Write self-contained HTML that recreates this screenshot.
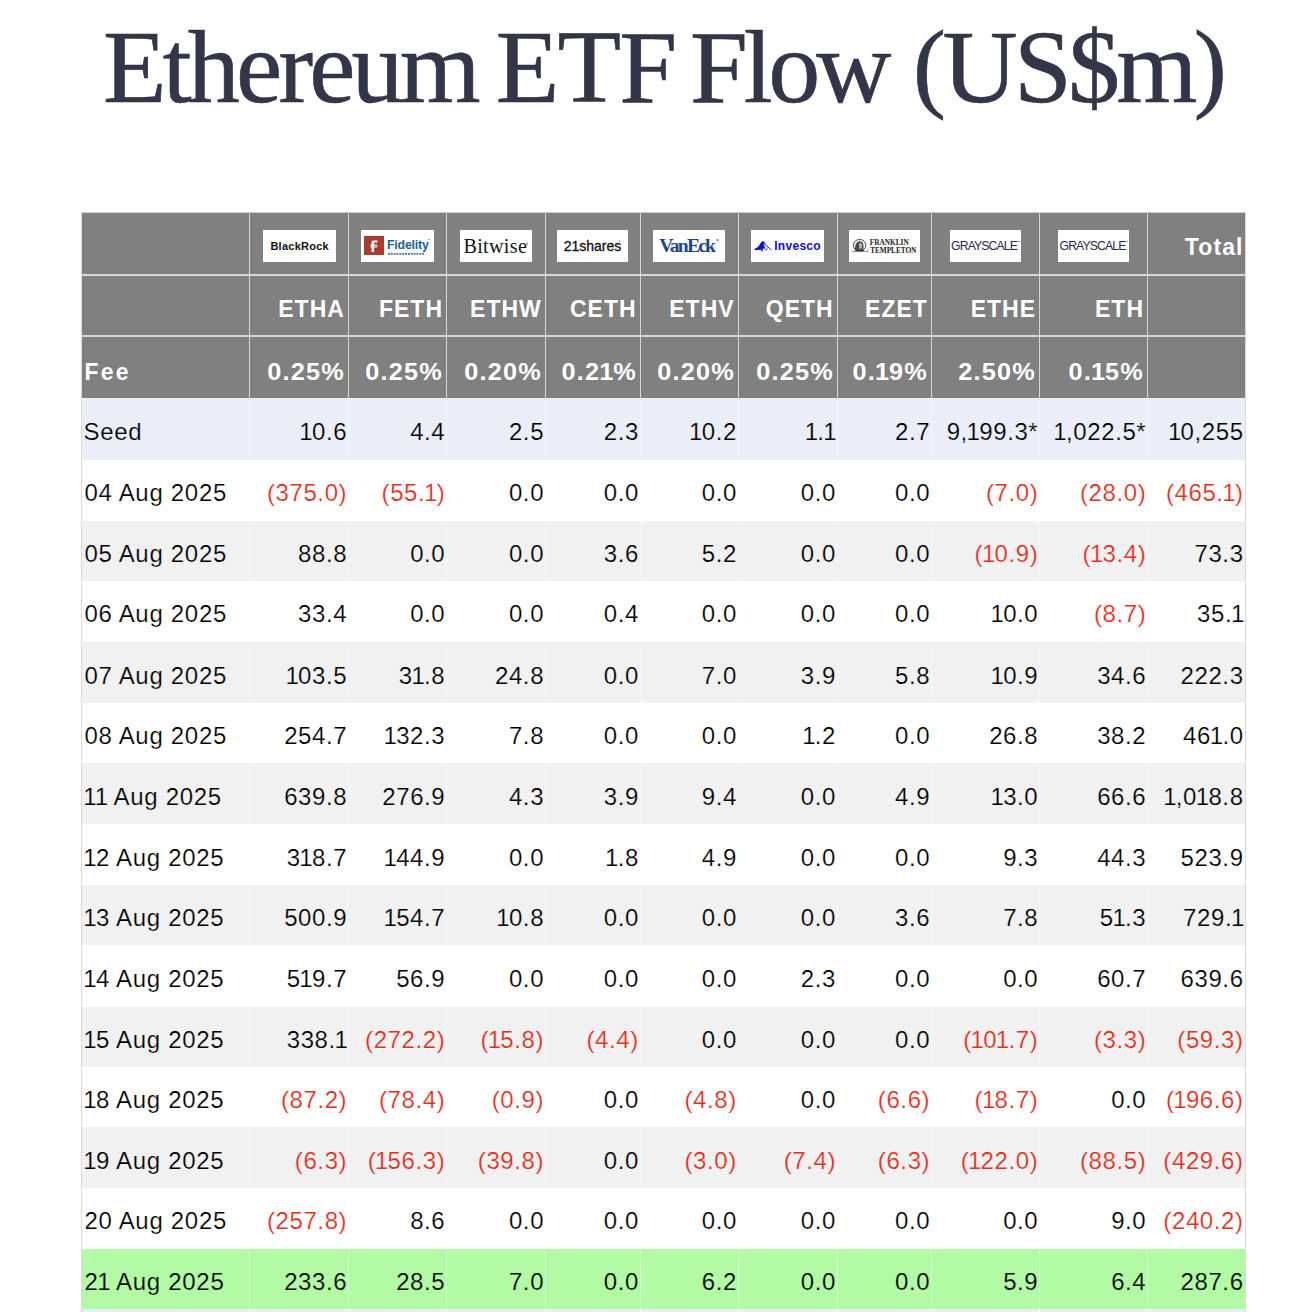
<!DOCTYPE html>
<html><head><meta charset="utf-8"><title>Ethereum ETF Flow</title>
<style>
html,body{margin:0;padding:0;background:#fff;}
body{width:1304px;height:1312px;position:relative;overflow:hidden;font-family:"Liberation Sans",sans-serif;}
.a{position:absolute;}
.n{white-space:nowrap;}
.r{text-align:right;}
.h{font-weight:bold;color:#fff;font-size:23.5px;}
.neg{color:#e2332b;}
.logo{position:absolute;background:#fff;overflow:hidden;}
.o{margin:0 -1.3px;}
.o2{margin:0 -1.1px;}
.p{font-size:99px;position:relative;top:-3px;}
.title{position:absolute;left:0;top:0;font-family:"Liberation Serif",serif;font-size:104px;color:#333548;white-space:nowrap;line-height:104px;-webkit-text-stroke:0.6px #333548;}
</style></head><body>

<div class="title" style="left:103px;top:14.5px;letter-spacing:-3.8px;">Ethereum</div>
<div class="title" style="left:495.8px;top:14.5px;letter-spacing:-1.75px;">ETF</div>
<div class="title" style="left:690px;top:14.5px;letter-spacing:-4.2px;">Flow</div>
<div class="title" style="left:913px;top:14.5px;letter-spacing:-3.6px;"><span class="p">(</span>US$m<span class="p">)</span></div>
<div class="a" style="left:81.5px;top:212.5px;width:1163.5px;height:185.1px;background:#808080;"></div>
<div class="a" style="left:81.5px;top:397.6px;width:1163.5px;height:62.4px;background:#eaeef8;"></div>
<div class="a" style="left:81.5px;top:460.0px;width:1163.5px;height:60.5px;background:#ffffff;"></div>
<div class="a" style="left:81.5px;top:520.5px;width:1163.5px;height:60.3px;background:#f1f1f1;"></div>
<div class="a" style="left:81.5px;top:580.8px;width:1163.5px;height:61.4px;background:#ffffff;"></div>
<div class="a" style="left:81.5px;top:642.2px;width:1163.5px;height:60.7px;background:#f1f1f1;"></div>
<div class="a" style="left:81.5px;top:702.9px;width:1163.5px;height:60.3px;background:#ffffff;"></div>
<div class="a" style="left:81.5px;top:763.2px;width:1163.5px;height:61.3px;background:#f1f1f1;"></div>
<div class="a" style="left:81.5px;top:824.5px;width:1163.5px;height:60.5px;background:#ffffff;"></div>
<div class="a" style="left:81.5px;top:885.0px;width:1163.5px;height:60.2px;background:#f1f1f1;"></div>
<div class="a" style="left:81.5px;top:945.2px;width:1163.5px;height:61.4px;background:#ffffff;"></div>
<div class="a" style="left:81.5px;top:1006.6px;width:1163.5px;height:60.3px;background:#f1f1f1;"></div>
<div class="a" style="left:81.5px;top:1066.9px;width:1163.5px;height:60.3px;background:#ffffff;"></div>
<div class="a" style="left:81.5px;top:1127.2px;width:1163.5px;height:60.7px;background:#f1f1f1;"></div>
<div class="a" style="left:81.5px;top:1187.9px;width:1163.5px;height:60.7px;background:#ffffff;"></div>
<div class="a" style="left:81.5px;top:1248.6px;width:1163.5px;height:60.6px;background:#b2faa4;"></div>
<div class="a" style="left:81.5px;top:1309.2px;width:1163.5px;height:2.8px;background:#eaeef8;"></div>
<div class="a" style="left:81.5px;top:274.0px;width:1163.5px;height:2px;background:#d6d6d6;"></div>
<div class="a" style="left:81.5px;top:335.2px;width:1163.5px;height:2px;background:#d6d6d6;"></div>
<div class="a" style="left:248.75px;top:212.5px;width:1.5px;height:185.1px;background:#d6d6d6;"></div>
<div class="a" style="left:347.85px;top:212.5px;width:1.5px;height:185.1px;background:#d6d6d6;"></div>
<div class="a" style="left:445.95px;top:212.5px;width:1.5px;height:185.1px;background:#d6d6d6;"></div>
<div class="a" style="left:544.75px;top:212.5px;width:1.5px;height:185.1px;background:#d6d6d6;"></div>
<div class="a" style="left:639.55px;top:212.5px;width:1.5px;height:185.1px;background:#d6d6d6;"></div>
<div class="a" style="left:737.55px;top:212.5px;width:1.5px;height:185.1px;background:#d6d6d6;"></div>
<div class="a" style="left:836.65px;top:212.5px;width:1.5px;height:185.1px;background:#d6d6d6;"></div>
<div class="a" style="left:930.85px;top:212.5px;width:1.5px;height:185.1px;background:#d6d6d6;"></div>
<div class="a" style="left:1038.95px;top:212.5px;width:1.5px;height:185.1px;background:#d6d6d6;"></div>
<div class="a" style="left:1146.95px;top:212.5px;width:1.5px;height:185.1px;background:#d6d6d6;"></div>
<div class="a" style="left:249.0px;top:397.6px;width:1px;height:914.4px;background:rgba(255,255,255,0.4);"></div>
<div class="a" style="left:348.1px;top:397.6px;width:1px;height:914.4px;background:rgba(255,255,255,0.4);"></div>
<div class="a" style="left:446.2px;top:397.6px;width:1px;height:914.4px;background:rgba(255,255,255,0.4);"></div>
<div class="a" style="left:545.0px;top:397.6px;width:1px;height:914.4px;background:rgba(255,255,255,0.4);"></div>
<div class="a" style="left:639.8px;top:397.6px;width:1px;height:914.4px;background:rgba(255,255,255,0.4);"></div>
<div class="a" style="left:737.8px;top:397.6px;width:1px;height:914.4px;background:rgba(255,255,255,0.4);"></div>
<div class="a" style="left:836.9px;top:397.6px;width:1px;height:914.4px;background:rgba(255,255,255,0.4);"></div>
<div class="a" style="left:931.1px;top:397.6px;width:1px;height:914.4px;background:rgba(255,255,255,0.4);"></div>
<div class="a" style="left:1039.2px;top:397.6px;width:1px;height:914.4px;background:rgba(255,255,255,0.4);"></div>
<div class="a" style="left:1147.2px;top:397.6px;width:1px;height:914.4px;background:rgba(255,255,255,0.4);"></div>
<div class="a" style="left:81.0px;top:212.0px;width:1px;height:1099.5px;background:#dcd8d2;"></div>
<div class="a" style="left:1245.0px;top:212.0px;width:1px;height:1099.5px;background:#dcd8d2;"></div>
<div class="a" style="left:81.5px;top:212.0px;width:1163.5px;height:1px;background:#d0d0d0;"></div>
<div class="a n" style="left:44.90px;top:297.63px;width:300px;text-align:right;font-size:23px;line-height:23px;font-weight:bold;color:#fff;letter-spacing:1.0px;">ETHA</div>
<div class="a n" style="left:45.00px;top:360.93px;width:300px;text-align:right;font-size:23px;line-height:23px;font-weight:bold;color:#fff;letter-spacing:1.1px;transform:scaleX(1.1);transform-origin:100% 50%;">0.25%</div>
<div class="a n" style="left:143.00px;top:297.63px;width:300px;text-align:right;font-size:23px;line-height:23px;font-weight:bold;color:#fff;letter-spacing:1.0px;">FETH</div>
<div class="a n" style="left:143.10px;top:360.93px;width:300px;text-align:right;font-size:23px;line-height:23px;font-weight:bold;color:#fff;letter-spacing:1.1px;transform:scaleX(1.1);transform-origin:100% 50%;">0.25%</div>
<div class="a n" style="left:241.80px;top:297.63px;width:300px;text-align:right;font-size:23px;line-height:23px;font-weight:bold;color:#fff;letter-spacing:1.0px;">ETHW</div>
<div class="a n" style="left:241.90px;top:360.93px;width:300px;text-align:right;font-size:23px;line-height:23px;font-weight:bold;color:#fff;letter-spacing:1.1px;transform:scaleX(1.1);transform-origin:100% 50%;">0.20%</div>
<div class="a n" style="left:336.60px;top:297.63px;width:300px;text-align:right;font-size:23px;line-height:23px;font-weight:bold;color:#fff;letter-spacing:1.0px;">CETH</div>
<div class="a n" style="left:336.70px;top:360.93px;width:300px;text-align:right;font-size:23px;line-height:23px;font-weight:bold;color:#fff;letter-spacing:1.1px;transform:scaleX(1.1);transform-origin:100% 50%;">0.2<span class="o2">1</span>%</div>
<div class="a n" style="left:434.60px;top:297.63px;width:300px;text-align:right;font-size:23px;line-height:23px;font-weight:bold;color:#fff;letter-spacing:1.0px;">ETHV</div>
<div class="a n" style="left:434.70px;top:360.93px;width:300px;text-align:right;font-size:23px;line-height:23px;font-weight:bold;color:#fff;letter-spacing:1.1px;transform:scaleX(1.1);transform-origin:100% 50%;">0.20%</div>
<div class="a n" style="left:533.70px;top:297.63px;width:300px;text-align:right;font-size:23px;line-height:23px;font-weight:bold;color:#fff;letter-spacing:1.0px;">QETH</div>
<div class="a n" style="left:533.80px;top:360.93px;width:300px;text-align:right;font-size:23px;line-height:23px;font-weight:bold;color:#fff;letter-spacing:1.1px;transform:scaleX(1.1);transform-origin:100% 50%;">0.25%</div>
<div class="a n" style="left:627.90px;top:297.63px;width:300px;text-align:right;font-size:23px;line-height:23px;font-weight:bold;color:#fff;letter-spacing:1.0px;">EZET</div>
<div class="a n" style="left:628.00px;top:360.93px;width:300px;text-align:right;font-size:23px;line-height:23px;font-weight:bold;color:#fff;letter-spacing:1.1px;transform:scaleX(1.1);transform-origin:100% 50%;">0.<span class="o2">1</span>9%</div>
<div class="a n" style="left:736.00px;top:297.63px;width:300px;text-align:right;font-size:23px;line-height:23px;font-weight:bold;color:#fff;letter-spacing:1.0px;">ETHE</div>
<div class="a n" style="left:736.10px;top:360.93px;width:300px;text-align:right;font-size:23px;line-height:23px;font-weight:bold;color:#fff;letter-spacing:1.1px;transform:scaleX(1.1);transform-origin:100% 50%;">2.50%</div>
<div class="a n" style="left:844.00px;top:297.63px;width:300px;text-align:right;font-size:23px;line-height:23px;font-weight:bold;color:#fff;letter-spacing:1.0px;">ETH</div>
<div class="a n" style="left:844.10px;top:360.93px;width:300px;text-align:right;font-size:23px;line-height:23px;font-weight:bold;color:#fff;letter-spacing:1.1px;transform:scaleX(1.1);transform-origin:100% 50%;">0.<span class="o2">1</span>5%</div>
<div class="a n" style="left:943.60px;top:235.73px;width:300px;text-align:right;font-size:23px;line-height:23px;font-weight:bold;color:#fff;letter-spacing:1.1px;">Total</div>
<div class="a n" style="left:84.50px;top:360.93px;font-size:23px;line-height:23px;font-weight:bold;color:#fff;letter-spacing:2.2px;">Fee</div>
<div class="a n" style="left:83.50px;top:420.38px;font-size:24px;line-height:24px;color:#000;letter-spacing:0.7px;-webkit-text-stroke:0.2px #eaeef8;">Seed</div>
<div class="a n" style="left:47.20px;top:420.38px;width:300px;text-align:right;font-size:24px;line-height:24px;color:#000;letter-spacing:0.6px;-webkit-text-stroke:0.2px #eaeef8;"><span class="o">1</span>0.6</div>
<div class="a n" style="left:145.30px;top:420.38px;width:300px;text-align:right;font-size:24px;line-height:24px;color:#000;letter-spacing:0.6px;-webkit-text-stroke:0.2px #eaeef8;">4.4</div>
<div class="a n" style="left:244.10px;top:420.38px;width:300px;text-align:right;font-size:24px;line-height:24px;color:#000;letter-spacing:0.6px;-webkit-text-stroke:0.2px #eaeef8;">2.5</div>
<div class="a n" style="left:338.90px;top:420.38px;width:300px;text-align:right;font-size:24px;line-height:24px;color:#000;letter-spacing:0.6px;-webkit-text-stroke:0.2px #eaeef8;">2.3</div>
<div class="a n" style="left:436.90px;top:420.38px;width:300px;text-align:right;font-size:24px;line-height:24px;color:#000;letter-spacing:0.6px;-webkit-text-stroke:0.2px #eaeef8;"><span class="o">1</span>0.2</div>
<div class="a n" style="left:536.00px;top:420.38px;width:300px;text-align:right;font-size:24px;line-height:24px;color:#000;letter-spacing:0.6px;-webkit-text-stroke:0.2px #eaeef8;"><span class="o">1</span>.<span class="o">1</span></div>
<div class="a n" style="left:630.20px;top:420.38px;width:300px;text-align:right;font-size:24px;line-height:24px;color:#000;letter-spacing:0.6px;-webkit-text-stroke:0.2px #eaeef8;">2.7</div>
<div class="a n" style="left:738.30px;top:420.38px;width:300px;text-align:right;font-size:24px;line-height:24px;color:#000;letter-spacing:0.6px;-webkit-text-stroke:0.2px #eaeef8;">9,<span class="o">1</span>99.3*</div>
<div class="a n" style="left:846.30px;top:420.38px;width:300px;text-align:right;font-size:24px;line-height:24px;color:#000;letter-spacing:0.6px;-webkit-text-stroke:0.2px #eaeef8;"><span class="o">1</span>,022.5*</div>
<div class="a n" style="left:943.60px;top:420.38px;width:300px;text-align:right;font-size:24px;line-height:24px;color:#000;letter-spacing:0.6px;-webkit-text-stroke:0.2px #eaeef8;"><span class="o">1</span>0,255</div>
<div class="a n" style="left:84.50px;top:481.38px;font-size:24px;line-height:24px;color:#000;letter-spacing:0.7px;-webkit-text-stroke:0.2px #ffffff;">04 Aug 2025</div>
<div class="a n" style="left:47.20px;top:481.38px;width:300px;text-align:right;font-size:24px;line-height:24px;color:#e52d20;letter-spacing:0.6px;-webkit-text-stroke:0.2px #ffffff;">(375.0)</div>
<div class="a n" style="left:145.30px;top:481.38px;width:300px;text-align:right;font-size:24px;line-height:24px;color:#e52d20;letter-spacing:0.6px;-webkit-text-stroke:0.2px #ffffff;">(55.<span class="o">1</span>)</div>
<div class="a n" style="left:244.10px;top:481.38px;width:300px;text-align:right;font-size:24px;line-height:24px;color:#000;letter-spacing:0.6px;-webkit-text-stroke:0.2px #ffffff;">0.0</div>
<div class="a n" style="left:338.90px;top:481.38px;width:300px;text-align:right;font-size:24px;line-height:24px;color:#000;letter-spacing:0.6px;-webkit-text-stroke:0.2px #ffffff;">0.0</div>
<div class="a n" style="left:436.90px;top:481.38px;width:300px;text-align:right;font-size:24px;line-height:24px;color:#000;letter-spacing:0.6px;-webkit-text-stroke:0.2px #ffffff;">0.0</div>
<div class="a n" style="left:536.00px;top:481.38px;width:300px;text-align:right;font-size:24px;line-height:24px;color:#000;letter-spacing:0.6px;-webkit-text-stroke:0.2px #ffffff;">0.0</div>
<div class="a n" style="left:630.20px;top:481.38px;width:300px;text-align:right;font-size:24px;line-height:24px;color:#000;letter-spacing:0.6px;-webkit-text-stroke:0.2px #ffffff;">0.0</div>
<div class="a n" style="left:738.30px;top:481.38px;width:300px;text-align:right;font-size:24px;line-height:24px;color:#e52d20;letter-spacing:0.6px;-webkit-text-stroke:0.2px #ffffff;">(7.0)</div>
<div class="a n" style="left:846.30px;top:481.38px;width:300px;text-align:right;font-size:24px;line-height:24px;color:#e52d20;letter-spacing:0.6px;-webkit-text-stroke:0.2px #ffffff;">(28.0)</div>
<div class="a n" style="left:943.60px;top:481.38px;width:300px;text-align:right;font-size:24px;line-height:24px;color:#e52d20;letter-spacing:0.6px;-webkit-text-stroke:0.2px #ffffff;">(465.<span class="o">1</span>)</div>
<div class="a n" style="left:84.50px;top:541.88px;font-size:24px;line-height:24px;color:#000;letter-spacing:0.7px;-webkit-text-stroke:0.2px #f1f1f1;">05 Aug 2025</div>
<div class="a n" style="left:47.20px;top:541.88px;width:300px;text-align:right;font-size:24px;line-height:24px;color:#000;letter-spacing:0.6px;-webkit-text-stroke:0.2px #f1f1f1;">88.8</div>
<div class="a n" style="left:145.30px;top:541.88px;width:300px;text-align:right;font-size:24px;line-height:24px;color:#000;letter-spacing:0.6px;-webkit-text-stroke:0.2px #f1f1f1;">0.0</div>
<div class="a n" style="left:244.10px;top:541.88px;width:300px;text-align:right;font-size:24px;line-height:24px;color:#000;letter-spacing:0.6px;-webkit-text-stroke:0.2px #f1f1f1;">0.0</div>
<div class="a n" style="left:338.90px;top:541.88px;width:300px;text-align:right;font-size:24px;line-height:24px;color:#000;letter-spacing:0.6px;-webkit-text-stroke:0.2px #f1f1f1;">3.6</div>
<div class="a n" style="left:436.90px;top:541.88px;width:300px;text-align:right;font-size:24px;line-height:24px;color:#000;letter-spacing:0.6px;-webkit-text-stroke:0.2px #f1f1f1;">5.2</div>
<div class="a n" style="left:536.00px;top:541.88px;width:300px;text-align:right;font-size:24px;line-height:24px;color:#000;letter-spacing:0.6px;-webkit-text-stroke:0.2px #f1f1f1;">0.0</div>
<div class="a n" style="left:630.20px;top:541.88px;width:300px;text-align:right;font-size:24px;line-height:24px;color:#000;letter-spacing:0.6px;-webkit-text-stroke:0.2px #f1f1f1;">0.0</div>
<div class="a n" style="left:738.30px;top:541.88px;width:300px;text-align:right;font-size:24px;line-height:24px;color:#e52d20;letter-spacing:0.6px;-webkit-text-stroke:0.2px #f1f1f1;">(<span class="o">1</span>0.9)</div>
<div class="a n" style="left:846.30px;top:541.88px;width:300px;text-align:right;font-size:24px;line-height:24px;color:#e52d20;letter-spacing:0.6px;-webkit-text-stroke:0.2px #f1f1f1;">(<span class="o">1</span>3.4)</div>
<div class="a n" style="left:943.60px;top:541.88px;width:300px;text-align:right;font-size:24px;line-height:24px;color:#000;letter-spacing:0.6px;-webkit-text-stroke:0.2px #f1f1f1;">73.3</div>
<div class="a n" style="left:84.50px;top:602.18px;font-size:24px;line-height:24px;color:#000;letter-spacing:0.7px;-webkit-text-stroke:0.2px #ffffff;">06 Aug 2025</div>
<div class="a n" style="left:47.20px;top:602.18px;width:300px;text-align:right;font-size:24px;line-height:24px;color:#000;letter-spacing:0.6px;-webkit-text-stroke:0.2px #ffffff;">33.4</div>
<div class="a n" style="left:145.30px;top:602.18px;width:300px;text-align:right;font-size:24px;line-height:24px;color:#000;letter-spacing:0.6px;-webkit-text-stroke:0.2px #ffffff;">0.0</div>
<div class="a n" style="left:244.10px;top:602.18px;width:300px;text-align:right;font-size:24px;line-height:24px;color:#000;letter-spacing:0.6px;-webkit-text-stroke:0.2px #ffffff;">0.0</div>
<div class="a n" style="left:338.90px;top:602.18px;width:300px;text-align:right;font-size:24px;line-height:24px;color:#000;letter-spacing:0.6px;-webkit-text-stroke:0.2px #ffffff;">0.4</div>
<div class="a n" style="left:436.90px;top:602.18px;width:300px;text-align:right;font-size:24px;line-height:24px;color:#000;letter-spacing:0.6px;-webkit-text-stroke:0.2px #ffffff;">0.0</div>
<div class="a n" style="left:536.00px;top:602.18px;width:300px;text-align:right;font-size:24px;line-height:24px;color:#000;letter-spacing:0.6px;-webkit-text-stroke:0.2px #ffffff;">0.0</div>
<div class="a n" style="left:630.20px;top:602.18px;width:300px;text-align:right;font-size:24px;line-height:24px;color:#000;letter-spacing:0.6px;-webkit-text-stroke:0.2px #ffffff;">0.0</div>
<div class="a n" style="left:738.30px;top:602.18px;width:300px;text-align:right;font-size:24px;line-height:24px;color:#000;letter-spacing:0.6px;-webkit-text-stroke:0.2px #ffffff;"><span class="o">1</span>0.0</div>
<div class="a n" style="left:846.30px;top:602.18px;width:300px;text-align:right;font-size:24px;line-height:24px;color:#e52d20;letter-spacing:0.6px;-webkit-text-stroke:0.2px #ffffff;">(8.7)</div>
<div class="a n" style="left:943.60px;top:602.18px;width:300px;text-align:right;font-size:24px;line-height:24px;color:#000;letter-spacing:0.6px;-webkit-text-stroke:0.2px #ffffff;">35.<span class="o">1</span></div>
<div class="a n" style="left:84.50px;top:663.58px;font-size:24px;line-height:24px;color:#000;letter-spacing:0.7px;-webkit-text-stroke:0.2px #f1f1f1;">07 Aug 2025</div>
<div class="a n" style="left:47.20px;top:663.58px;width:300px;text-align:right;font-size:24px;line-height:24px;color:#000;letter-spacing:0.6px;-webkit-text-stroke:0.2px #f1f1f1;"><span class="o">1</span>03.5</div>
<div class="a n" style="left:145.30px;top:663.58px;width:300px;text-align:right;font-size:24px;line-height:24px;color:#000;letter-spacing:0.6px;-webkit-text-stroke:0.2px #f1f1f1;">3<span class="o">1</span>.8</div>
<div class="a n" style="left:244.10px;top:663.58px;width:300px;text-align:right;font-size:24px;line-height:24px;color:#000;letter-spacing:0.6px;-webkit-text-stroke:0.2px #f1f1f1;">24.8</div>
<div class="a n" style="left:338.90px;top:663.58px;width:300px;text-align:right;font-size:24px;line-height:24px;color:#000;letter-spacing:0.6px;-webkit-text-stroke:0.2px #f1f1f1;">0.0</div>
<div class="a n" style="left:436.90px;top:663.58px;width:300px;text-align:right;font-size:24px;line-height:24px;color:#000;letter-spacing:0.6px;-webkit-text-stroke:0.2px #f1f1f1;">7.0</div>
<div class="a n" style="left:536.00px;top:663.58px;width:300px;text-align:right;font-size:24px;line-height:24px;color:#000;letter-spacing:0.6px;-webkit-text-stroke:0.2px #f1f1f1;">3.9</div>
<div class="a n" style="left:630.20px;top:663.58px;width:300px;text-align:right;font-size:24px;line-height:24px;color:#000;letter-spacing:0.6px;-webkit-text-stroke:0.2px #f1f1f1;">5.8</div>
<div class="a n" style="left:738.30px;top:663.58px;width:300px;text-align:right;font-size:24px;line-height:24px;color:#000;letter-spacing:0.6px;-webkit-text-stroke:0.2px #f1f1f1;"><span class="o">1</span>0.9</div>
<div class="a n" style="left:846.30px;top:663.58px;width:300px;text-align:right;font-size:24px;line-height:24px;color:#000;letter-spacing:0.6px;-webkit-text-stroke:0.2px #f1f1f1;">34.6</div>
<div class="a n" style="left:943.60px;top:663.58px;width:300px;text-align:right;font-size:24px;line-height:24px;color:#000;letter-spacing:0.6px;-webkit-text-stroke:0.2px #f1f1f1;">222.3</div>
<div class="a n" style="left:84.50px;top:724.28px;font-size:24px;line-height:24px;color:#000;letter-spacing:0.7px;-webkit-text-stroke:0.2px #ffffff;">08 Aug 2025</div>
<div class="a n" style="left:47.20px;top:724.28px;width:300px;text-align:right;font-size:24px;line-height:24px;color:#000;letter-spacing:0.6px;-webkit-text-stroke:0.2px #ffffff;">254.7</div>
<div class="a n" style="left:145.30px;top:724.28px;width:300px;text-align:right;font-size:24px;line-height:24px;color:#000;letter-spacing:0.6px;-webkit-text-stroke:0.2px #ffffff;"><span class="o">1</span>32.3</div>
<div class="a n" style="left:244.10px;top:724.28px;width:300px;text-align:right;font-size:24px;line-height:24px;color:#000;letter-spacing:0.6px;-webkit-text-stroke:0.2px #ffffff;">7.8</div>
<div class="a n" style="left:338.90px;top:724.28px;width:300px;text-align:right;font-size:24px;line-height:24px;color:#000;letter-spacing:0.6px;-webkit-text-stroke:0.2px #ffffff;">0.0</div>
<div class="a n" style="left:436.90px;top:724.28px;width:300px;text-align:right;font-size:24px;line-height:24px;color:#000;letter-spacing:0.6px;-webkit-text-stroke:0.2px #ffffff;">0.0</div>
<div class="a n" style="left:536.00px;top:724.28px;width:300px;text-align:right;font-size:24px;line-height:24px;color:#000;letter-spacing:0.6px;-webkit-text-stroke:0.2px #ffffff;"><span class="o">1</span>.2</div>
<div class="a n" style="left:630.20px;top:724.28px;width:300px;text-align:right;font-size:24px;line-height:24px;color:#000;letter-spacing:0.6px;-webkit-text-stroke:0.2px #ffffff;">0.0</div>
<div class="a n" style="left:738.30px;top:724.28px;width:300px;text-align:right;font-size:24px;line-height:24px;color:#000;letter-spacing:0.6px;-webkit-text-stroke:0.2px #ffffff;">26.8</div>
<div class="a n" style="left:846.30px;top:724.28px;width:300px;text-align:right;font-size:24px;line-height:24px;color:#000;letter-spacing:0.6px;-webkit-text-stroke:0.2px #ffffff;">38.2</div>
<div class="a n" style="left:943.60px;top:724.28px;width:300px;text-align:right;font-size:24px;line-height:24px;color:#000;letter-spacing:0.6px;-webkit-text-stroke:0.2px #ffffff;">46<span class="o">1</span>.0</div>
<div class="a n" style="left:84.50px;top:784.58px;font-size:24px;line-height:24px;color:#000;letter-spacing:0.7px;-webkit-text-stroke:0.2px #f1f1f1;"><span class="o">1</span><span class="o">1</span> Aug 2025</div>
<div class="a n" style="left:47.20px;top:784.58px;width:300px;text-align:right;font-size:24px;line-height:24px;color:#000;letter-spacing:0.6px;-webkit-text-stroke:0.2px #f1f1f1;">639.8</div>
<div class="a n" style="left:145.30px;top:784.58px;width:300px;text-align:right;font-size:24px;line-height:24px;color:#000;letter-spacing:0.6px;-webkit-text-stroke:0.2px #f1f1f1;">276.9</div>
<div class="a n" style="left:244.10px;top:784.58px;width:300px;text-align:right;font-size:24px;line-height:24px;color:#000;letter-spacing:0.6px;-webkit-text-stroke:0.2px #f1f1f1;">4.3</div>
<div class="a n" style="left:338.90px;top:784.58px;width:300px;text-align:right;font-size:24px;line-height:24px;color:#000;letter-spacing:0.6px;-webkit-text-stroke:0.2px #f1f1f1;">3.9</div>
<div class="a n" style="left:436.90px;top:784.58px;width:300px;text-align:right;font-size:24px;line-height:24px;color:#000;letter-spacing:0.6px;-webkit-text-stroke:0.2px #f1f1f1;">9.4</div>
<div class="a n" style="left:536.00px;top:784.58px;width:300px;text-align:right;font-size:24px;line-height:24px;color:#000;letter-spacing:0.6px;-webkit-text-stroke:0.2px #f1f1f1;">0.0</div>
<div class="a n" style="left:630.20px;top:784.58px;width:300px;text-align:right;font-size:24px;line-height:24px;color:#000;letter-spacing:0.6px;-webkit-text-stroke:0.2px #f1f1f1;">4.9</div>
<div class="a n" style="left:738.30px;top:784.58px;width:300px;text-align:right;font-size:24px;line-height:24px;color:#000;letter-spacing:0.6px;-webkit-text-stroke:0.2px #f1f1f1;"><span class="o">1</span>3.0</div>
<div class="a n" style="left:846.30px;top:784.58px;width:300px;text-align:right;font-size:24px;line-height:24px;color:#000;letter-spacing:0.6px;-webkit-text-stroke:0.2px #f1f1f1;">66.6</div>
<div class="a n" style="left:943.60px;top:784.58px;width:300px;text-align:right;font-size:24px;line-height:24px;color:#000;letter-spacing:0.6px;-webkit-text-stroke:0.2px #f1f1f1;"><span class="o">1</span>,0<span class="o">1</span>8.8</div>
<div class="a n" style="left:84.50px;top:845.88px;font-size:24px;line-height:24px;color:#000;letter-spacing:0.7px;-webkit-text-stroke:0.2px #ffffff;"><span class="o">1</span>2 Aug 2025</div>
<div class="a n" style="left:47.20px;top:845.88px;width:300px;text-align:right;font-size:24px;line-height:24px;color:#000;letter-spacing:0.6px;-webkit-text-stroke:0.2px #ffffff;">3<span class="o">1</span>8.7</div>
<div class="a n" style="left:145.30px;top:845.88px;width:300px;text-align:right;font-size:24px;line-height:24px;color:#000;letter-spacing:0.6px;-webkit-text-stroke:0.2px #ffffff;"><span class="o">1</span>44.9</div>
<div class="a n" style="left:244.10px;top:845.88px;width:300px;text-align:right;font-size:24px;line-height:24px;color:#000;letter-spacing:0.6px;-webkit-text-stroke:0.2px #ffffff;">0.0</div>
<div class="a n" style="left:338.90px;top:845.88px;width:300px;text-align:right;font-size:24px;line-height:24px;color:#000;letter-spacing:0.6px;-webkit-text-stroke:0.2px #ffffff;"><span class="o">1</span>.8</div>
<div class="a n" style="left:436.90px;top:845.88px;width:300px;text-align:right;font-size:24px;line-height:24px;color:#000;letter-spacing:0.6px;-webkit-text-stroke:0.2px #ffffff;">4.9</div>
<div class="a n" style="left:536.00px;top:845.88px;width:300px;text-align:right;font-size:24px;line-height:24px;color:#000;letter-spacing:0.6px;-webkit-text-stroke:0.2px #ffffff;">0.0</div>
<div class="a n" style="left:630.20px;top:845.88px;width:300px;text-align:right;font-size:24px;line-height:24px;color:#000;letter-spacing:0.6px;-webkit-text-stroke:0.2px #ffffff;">0.0</div>
<div class="a n" style="left:738.30px;top:845.88px;width:300px;text-align:right;font-size:24px;line-height:24px;color:#000;letter-spacing:0.6px;-webkit-text-stroke:0.2px #ffffff;">9.3</div>
<div class="a n" style="left:846.30px;top:845.88px;width:300px;text-align:right;font-size:24px;line-height:24px;color:#000;letter-spacing:0.6px;-webkit-text-stroke:0.2px #ffffff;">44.3</div>
<div class="a n" style="left:943.60px;top:845.88px;width:300px;text-align:right;font-size:24px;line-height:24px;color:#000;letter-spacing:0.6px;-webkit-text-stroke:0.2px #ffffff;">523.9</div>
<div class="a n" style="left:84.50px;top:906.38px;font-size:24px;line-height:24px;color:#000;letter-spacing:0.7px;-webkit-text-stroke:0.2px #f1f1f1;"><span class="o">1</span>3 Aug 2025</div>
<div class="a n" style="left:47.20px;top:906.38px;width:300px;text-align:right;font-size:24px;line-height:24px;color:#000;letter-spacing:0.6px;-webkit-text-stroke:0.2px #f1f1f1;">500.9</div>
<div class="a n" style="left:145.30px;top:906.38px;width:300px;text-align:right;font-size:24px;line-height:24px;color:#000;letter-spacing:0.6px;-webkit-text-stroke:0.2px #f1f1f1;"><span class="o">1</span>54.7</div>
<div class="a n" style="left:244.10px;top:906.38px;width:300px;text-align:right;font-size:24px;line-height:24px;color:#000;letter-spacing:0.6px;-webkit-text-stroke:0.2px #f1f1f1;"><span class="o">1</span>0.8</div>
<div class="a n" style="left:338.90px;top:906.38px;width:300px;text-align:right;font-size:24px;line-height:24px;color:#000;letter-spacing:0.6px;-webkit-text-stroke:0.2px #f1f1f1;">0.0</div>
<div class="a n" style="left:436.90px;top:906.38px;width:300px;text-align:right;font-size:24px;line-height:24px;color:#000;letter-spacing:0.6px;-webkit-text-stroke:0.2px #f1f1f1;">0.0</div>
<div class="a n" style="left:536.00px;top:906.38px;width:300px;text-align:right;font-size:24px;line-height:24px;color:#000;letter-spacing:0.6px;-webkit-text-stroke:0.2px #f1f1f1;">0.0</div>
<div class="a n" style="left:630.20px;top:906.38px;width:300px;text-align:right;font-size:24px;line-height:24px;color:#000;letter-spacing:0.6px;-webkit-text-stroke:0.2px #f1f1f1;">3.6</div>
<div class="a n" style="left:738.30px;top:906.38px;width:300px;text-align:right;font-size:24px;line-height:24px;color:#000;letter-spacing:0.6px;-webkit-text-stroke:0.2px #f1f1f1;">7.8</div>
<div class="a n" style="left:846.30px;top:906.38px;width:300px;text-align:right;font-size:24px;line-height:24px;color:#000;letter-spacing:0.6px;-webkit-text-stroke:0.2px #f1f1f1;">5<span class="o">1</span>.3</div>
<div class="a n" style="left:943.60px;top:906.38px;width:300px;text-align:right;font-size:24px;line-height:24px;color:#000;letter-spacing:0.6px;-webkit-text-stroke:0.2px #f1f1f1;">729.<span class="o">1</span></div>
<div class="a n" style="left:84.50px;top:966.58px;font-size:24px;line-height:24px;color:#000;letter-spacing:0.7px;-webkit-text-stroke:0.2px #ffffff;"><span class="o">1</span>4 Aug 2025</div>
<div class="a n" style="left:47.20px;top:966.58px;width:300px;text-align:right;font-size:24px;line-height:24px;color:#000;letter-spacing:0.6px;-webkit-text-stroke:0.2px #ffffff;">5<span class="o">1</span>9.7</div>
<div class="a n" style="left:145.30px;top:966.58px;width:300px;text-align:right;font-size:24px;line-height:24px;color:#000;letter-spacing:0.6px;-webkit-text-stroke:0.2px #ffffff;">56.9</div>
<div class="a n" style="left:244.10px;top:966.58px;width:300px;text-align:right;font-size:24px;line-height:24px;color:#000;letter-spacing:0.6px;-webkit-text-stroke:0.2px #ffffff;">0.0</div>
<div class="a n" style="left:338.90px;top:966.58px;width:300px;text-align:right;font-size:24px;line-height:24px;color:#000;letter-spacing:0.6px;-webkit-text-stroke:0.2px #ffffff;">0.0</div>
<div class="a n" style="left:436.90px;top:966.58px;width:300px;text-align:right;font-size:24px;line-height:24px;color:#000;letter-spacing:0.6px;-webkit-text-stroke:0.2px #ffffff;">0.0</div>
<div class="a n" style="left:536.00px;top:966.58px;width:300px;text-align:right;font-size:24px;line-height:24px;color:#000;letter-spacing:0.6px;-webkit-text-stroke:0.2px #ffffff;">2.3</div>
<div class="a n" style="left:630.20px;top:966.58px;width:300px;text-align:right;font-size:24px;line-height:24px;color:#000;letter-spacing:0.6px;-webkit-text-stroke:0.2px #ffffff;">0.0</div>
<div class="a n" style="left:738.30px;top:966.58px;width:300px;text-align:right;font-size:24px;line-height:24px;color:#000;letter-spacing:0.6px;-webkit-text-stroke:0.2px #ffffff;">0.0</div>
<div class="a n" style="left:846.30px;top:966.58px;width:300px;text-align:right;font-size:24px;line-height:24px;color:#000;letter-spacing:0.6px;-webkit-text-stroke:0.2px #ffffff;">60.7</div>
<div class="a n" style="left:943.60px;top:966.58px;width:300px;text-align:right;font-size:24px;line-height:24px;color:#000;letter-spacing:0.6px;-webkit-text-stroke:0.2px #ffffff;">639.6</div>
<div class="a n" style="left:84.50px;top:1027.98px;font-size:24px;line-height:24px;color:#000;letter-spacing:0.7px;-webkit-text-stroke:0.2px #f1f1f1;"><span class="o">1</span>5 Aug 2025</div>
<div class="a n" style="left:47.20px;top:1027.98px;width:300px;text-align:right;font-size:24px;line-height:24px;color:#000;letter-spacing:0.6px;-webkit-text-stroke:0.2px #f1f1f1;">338.<span class="o">1</span></div>
<div class="a n" style="left:145.30px;top:1027.98px;width:300px;text-align:right;font-size:24px;line-height:24px;color:#e52d20;letter-spacing:0.6px;-webkit-text-stroke:0.2px #f1f1f1;">(272.2)</div>
<div class="a n" style="left:244.10px;top:1027.98px;width:300px;text-align:right;font-size:24px;line-height:24px;color:#e52d20;letter-spacing:0.6px;-webkit-text-stroke:0.2px #f1f1f1;">(<span class="o">1</span>5.8)</div>
<div class="a n" style="left:338.90px;top:1027.98px;width:300px;text-align:right;font-size:24px;line-height:24px;color:#e52d20;letter-spacing:0.6px;-webkit-text-stroke:0.2px #f1f1f1;">(4.4)</div>
<div class="a n" style="left:436.90px;top:1027.98px;width:300px;text-align:right;font-size:24px;line-height:24px;color:#000;letter-spacing:0.6px;-webkit-text-stroke:0.2px #f1f1f1;">0.0</div>
<div class="a n" style="left:536.00px;top:1027.98px;width:300px;text-align:right;font-size:24px;line-height:24px;color:#000;letter-spacing:0.6px;-webkit-text-stroke:0.2px #f1f1f1;">0.0</div>
<div class="a n" style="left:630.20px;top:1027.98px;width:300px;text-align:right;font-size:24px;line-height:24px;color:#000;letter-spacing:0.6px;-webkit-text-stroke:0.2px #f1f1f1;">0.0</div>
<div class="a n" style="left:738.30px;top:1027.98px;width:300px;text-align:right;font-size:24px;line-height:24px;color:#e52d20;letter-spacing:0.6px;-webkit-text-stroke:0.2px #f1f1f1;">(<span class="o">1</span>0<span class="o">1</span>.7)</div>
<div class="a n" style="left:846.30px;top:1027.98px;width:300px;text-align:right;font-size:24px;line-height:24px;color:#e52d20;letter-spacing:0.6px;-webkit-text-stroke:0.2px #f1f1f1;">(3.3)</div>
<div class="a n" style="left:943.60px;top:1027.98px;width:300px;text-align:right;font-size:24px;line-height:24px;color:#e52d20;letter-spacing:0.6px;-webkit-text-stroke:0.2px #f1f1f1;">(59.3)</div>
<div class="a n" style="left:84.50px;top:1088.28px;font-size:24px;line-height:24px;color:#000;letter-spacing:0.7px;-webkit-text-stroke:0.2px #ffffff;"><span class="o">1</span>8 Aug 2025</div>
<div class="a n" style="left:47.20px;top:1088.28px;width:300px;text-align:right;font-size:24px;line-height:24px;color:#e52d20;letter-spacing:0.6px;-webkit-text-stroke:0.2px #ffffff;">(87.2)</div>
<div class="a n" style="left:145.30px;top:1088.28px;width:300px;text-align:right;font-size:24px;line-height:24px;color:#e52d20;letter-spacing:0.6px;-webkit-text-stroke:0.2px #ffffff;">(78.4)</div>
<div class="a n" style="left:244.10px;top:1088.28px;width:300px;text-align:right;font-size:24px;line-height:24px;color:#e52d20;letter-spacing:0.6px;-webkit-text-stroke:0.2px #ffffff;">(0.9)</div>
<div class="a n" style="left:338.90px;top:1088.28px;width:300px;text-align:right;font-size:24px;line-height:24px;color:#000;letter-spacing:0.6px;-webkit-text-stroke:0.2px #ffffff;">0.0</div>
<div class="a n" style="left:436.90px;top:1088.28px;width:300px;text-align:right;font-size:24px;line-height:24px;color:#e52d20;letter-spacing:0.6px;-webkit-text-stroke:0.2px #ffffff;">(4.8)</div>
<div class="a n" style="left:536.00px;top:1088.28px;width:300px;text-align:right;font-size:24px;line-height:24px;color:#000;letter-spacing:0.6px;-webkit-text-stroke:0.2px #ffffff;">0.0</div>
<div class="a n" style="left:630.20px;top:1088.28px;width:300px;text-align:right;font-size:24px;line-height:24px;color:#e52d20;letter-spacing:0.6px;-webkit-text-stroke:0.2px #ffffff;">(6.6)</div>
<div class="a n" style="left:738.30px;top:1088.28px;width:300px;text-align:right;font-size:24px;line-height:24px;color:#e52d20;letter-spacing:0.6px;-webkit-text-stroke:0.2px #ffffff;">(<span class="o">1</span>8.7)</div>
<div class="a n" style="left:846.30px;top:1088.28px;width:300px;text-align:right;font-size:24px;line-height:24px;color:#000;letter-spacing:0.6px;-webkit-text-stroke:0.2px #ffffff;">0.0</div>
<div class="a n" style="left:943.60px;top:1088.28px;width:300px;text-align:right;font-size:24px;line-height:24px;color:#e52d20;letter-spacing:0.6px;-webkit-text-stroke:0.2px #ffffff;">(<span class="o">1</span>96.6)</div>
<div class="a n" style="left:84.50px;top:1148.58px;font-size:24px;line-height:24px;color:#000;letter-spacing:0.7px;-webkit-text-stroke:0.2px #f1f1f1;"><span class="o">1</span>9 Aug 2025</div>
<div class="a n" style="left:47.20px;top:1148.58px;width:300px;text-align:right;font-size:24px;line-height:24px;color:#e52d20;letter-spacing:0.6px;-webkit-text-stroke:0.2px #f1f1f1;">(6.3)</div>
<div class="a n" style="left:145.30px;top:1148.58px;width:300px;text-align:right;font-size:24px;line-height:24px;color:#e52d20;letter-spacing:0.6px;-webkit-text-stroke:0.2px #f1f1f1;">(<span class="o">1</span>56.3)</div>
<div class="a n" style="left:244.10px;top:1148.58px;width:300px;text-align:right;font-size:24px;line-height:24px;color:#e52d20;letter-spacing:0.6px;-webkit-text-stroke:0.2px #f1f1f1;">(39.8)</div>
<div class="a n" style="left:338.90px;top:1148.58px;width:300px;text-align:right;font-size:24px;line-height:24px;color:#000;letter-spacing:0.6px;-webkit-text-stroke:0.2px #f1f1f1;">0.0</div>
<div class="a n" style="left:436.90px;top:1148.58px;width:300px;text-align:right;font-size:24px;line-height:24px;color:#e52d20;letter-spacing:0.6px;-webkit-text-stroke:0.2px #f1f1f1;">(3.0)</div>
<div class="a n" style="left:536.00px;top:1148.58px;width:300px;text-align:right;font-size:24px;line-height:24px;color:#e52d20;letter-spacing:0.6px;-webkit-text-stroke:0.2px #f1f1f1;">(7.4)</div>
<div class="a n" style="left:630.20px;top:1148.58px;width:300px;text-align:right;font-size:24px;line-height:24px;color:#e52d20;letter-spacing:0.6px;-webkit-text-stroke:0.2px #f1f1f1;">(6.3)</div>
<div class="a n" style="left:738.30px;top:1148.58px;width:300px;text-align:right;font-size:24px;line-height:24px;color:#e52d20;letter-spacing:0.6px;-webkit-text-stroke:0.2px #f1f1f1;">(<span class="o">1</span>22.0)</div>
<div class="a n" style="left:846.30px;top:1148.58px;width:300px;text-align:right;font-size:24px;line-height:24px;color:#e52d20;letter-spacing:0.6px;-webkit-text-stroke:0.2px #f1f1f1;">(88.5)</div>
<div class="a n" style="left:943.60px;top:1148.58px;width:300px;text-align:right;font-size:24px;line-height:24px;color:#e52d20;letter-spacing:0.6px;-webkit-text-stroke:0.2px #f1f1f1;">(429.6)</div>
<div class="a n" style="left:84.50px;top:1209.28px;font-size:24px;line-height:24px;color:#000;letter-spacing:0.7px;-webkit-text-stroke:0.2px #ffffff;">20 Aug 2025</div>
<div class="a n" style="left:47.20px;top:1209.28px;width:300px;text-align:right;font-size:24px;line-height:24px;color:#e52d20;letter-spacing:0.6px;-webkit-text-stroke:0.2px #ffffff;">(257.8)</div>
<div class="a n" style="left:145.30px;top:1209.28px;width:300px;text-align:right;font-size:24px;line-height:24px;color:#000;letter-spacing:0.6px;-webkit-text-stroke:0.2px #ffffff;">8.6</div>
<div class="a n" style="left:244.10px;top:1209.28px;width:300px;text-align:right;font-size:24px;line-height:24px;color:#000;letter-spacing:0.6px;-webkit-text-stroke:0.2px #ffffff;">0.0</div>
<div class="a n" style="left:338.90px;top:1209.28px;width:300px;text-align:right;font-size:24px;line-height:24px;color:#000;letter-spacing:0.6px;-webkit-text-stroke:0.2px #ffffff;">0.0</div>
<div class="a n" style="left:436.90px;top:1209.28px;width:300px;text-align:right;font-size:24px;line-height:24px;color:#000;letter-spacing:0.6px;-webkit-text-stroke:0.2px #ffffff;">0.0</div>
<div class="a n" style="left:536.00px;top:1209.28px;width:300px;text-align:right;font-size:24px;line-height:24px;color:#000;letter-spacing:0.6px;-webkit-text-stroke:0.2px #ffffff;">0.0</div>
<div class="a n" style="left:630.20px;top:1209.28px;width:300px;text-align:right;font-size:24px;line-height:24px;color:#000;letter-spacing:0.6px;-webkit-text-stroke:0.2px #ffffff;">0.0</div>
<div class="a n" style="left:738.30px;top:1209.28px;width:300px;text-align:right;font-size:24px;line-height:24px;color:#000;letter-spacing:0.6px;-webkit-text-stroke:0.2px #ffffff;">0.0</div>
<div class="a n" style="left:846.30px;top:1209.28px;width:300px;text-align:right;font-size:24px;line-height:24px;color:#000;letter-spacing:0.6px;-webkit-text-stroke:0.2px #ffffff;">9.0</div>
<div class="a n" style="left:943.60px;top:1209.28px;width:300px;text-align:right;font-size:24px;line-height:24px;color:#e52d20;letter-spacing:0.6px;-webkit-text-stroke:0.2px #ffffff;">(240.2)</div>
<div class="a n" style="left:84.50px;top:1269.98px;font-size:24px;line-height:24px;color:#000;letter-spacing:0.7px;-webkit-text-stroke:0.2px #b2faa4;">2<span class="o">1</span> Aug 2025</div>
<div class="a n" style="left:47.20px;top:1269.98px;width:300px;text-align:right;font-size:24px;line-height:24px;color:#000;letter-spacing:0.6px;-webkit-text-stroke:0.2px #b2faa4;">233.6</div>
<div class="a n" style="left:145.30px;top:1269.98px;width:300px;text-align:right;font-size:24px;line-height:24px;color:#000;letter-spacing:0.6px;-webkit-text-stroke:0.2px #b2faa4;">28.5</div>
<div class="a n" style="left:244.10px;top:1269.98px;width:300px;text-align:right;font-size:24px;line-height:24px;color:#000;letter-spacing:0.6px;-webkit-text-stroke:0.2px #b2faa4;">7.0</div>
<div class="a n" style="left:338.90px;top:1269.98px;width:300px;text-align:right;font-size:24px;line-height:24px;color:#000;letter-spacing:0.6px;-webkit-text-stroke:0.2px #b2faa4;">0.0</div>
<div class="a n" style="left:436.90px;top:1269.98px;width:300px;text-align:right;font-size:24px;line-height:24px;color:#000;letter-spacing:0.6px;-webkit-text-stroke:0.2px #b2faa4;">6.2</div>
<div class="a n" style="left:536.00px;top:1269.98px;width:300px;text-align:right;font-size:24px;line-height:24px;color:#000;letter-spacing:0.6px;-webkit-text-stroke:0.2px #b2faa4;">0.0</div>
<div class="a n" style="left:630.20px;top:1269.98px;width:300px;text-align:right;font-size:24px;line-height:24px;color:#000;letter-spacing:0.6px;-webkit-text-stroke:0.2px #b2faa4;">0.0</div>
<div class="a n" style="left:738.30px;top:1269.98px;width:300px;text-align:right;font-size:24px;line-height:24px;color:#000;letter-spacing:0.6px;-webkit-text-stroke:0.2px #b2faa4;">5.9</div>
<div class="a n" style="left:846.30px;top:1269.98px;width:300px;text-align:right;font-size:24px;line-height:24px;color:#000;letter-spacing:0.6px;-webkit-text-stroke:0.2px #b2faa4;">6.4</div>
<div class="a n" style="left:943.60px;top:1269.98px;width:300px;text-align:right;font-size:24px;line-height:24px;color:#000;letter-spacing:0.6px;-webkit-text-stroke:0.2px #b2faa4;">287.6</div>
<div class="logo" style="left:262.6px;top:230.4px;width:73.30px;height:31.20px;"></div>
<div class="logo" style="left:360.9px;top:230.4px;width:72.70px;height:31.20px;"></div>
<div class="logo" style="left:459.9px;top:230.4px;width:71.70px;height:31.20px;"></div>
<div class="logo" style="left:556.8px;top:230.4px;width:71.20px;height:31.20px;"></div>
<div class="logo" style="left:653.2px;top:230.4px;width:71.80px;height:31.20px;"></div>
<div class="logo" style="left:751.4px;top:230.4px;width:72.60px;height:31.20px;"></div>
<div class="logo" style="left:848.6px;top:230.4px;width:71.00px;height:31.20px;"></div>
<div class="logo" style="left:949.6px;top:230.4px;width:71.80px;height:31.20px;"></div>
<div class="logo" style="left:1058.0px;top:230.4px;width:71.40px;height:31.20px;"></div>
<div class="a n" style="left:270.40px;top:240.69px;font-size:11px;line-height:11px;font-weight:bold;color:#111;letter-spacing:0.25px;">BlackRock</div>
<div class="a" style="left:327.2px;top:248.6px;width:1px;height:1px;background:#555;"></div>
<svg class="a" style="left:364px;top:235.8px" width="20" height="19.5" viewBox="0 0 20 19.5"><rect width="20" height="19.5" fill="#ad3a30"/><path d="M7.5 16.1 V6.6 C7.5 5.2 8.3 4.6 9.6 4.6 H13.5 V6.6 H10.1 V16.1 Z" fill="#fff"/><rect x="6.4" y="8.6" width="6.9" height="1.1" fill="#fff"/><rect x="6.4" y="10.4" width="6.9" height="1.1" fill="#fff"/></svg>
<div class="a n" style="left:386.60px;top:238.46px;font-size:13.4px;line-height:13.4px;font-weight:bold;color:#235d99;letter-spacing:-0.2px;transform:scaleX(0.92);transform-origin:0 0;">Fidelity</div>
<svg class="a" style="left:388.2px;top:253.4px" width="37" height="2" viewBox="0 0 37 2"><rect x="0.00" y="0" width="1.9" height="1.8" fill="#2a5a8f" opacity="0.85"/><rect x="2.85" y="0" width="1.9" height="1.8" fill="#2a5a8f" opacity="0.85"/><rect x="5.70" y="0" width="1.9" height="1.8" fill="#2a5a8f" opacity="0.85"/><rect x="8.55" y="0" width="1.9" height="1.8" fill="#2a5a8f" opacity="0.85"/><rect x="11.40" y="0" width="1.9" height="1.8" fill="#2a5a8f" opacity="0.85"/><rect x="14.25" y="0" width="1.9" height="1.8" fill="#2a5a8f" opacity="0.85"/><rect x="17.10" y="0" width="1.9" height="1.8" fill="#2a5a8f" opacity="0.85"/><rect x="19.95" y="0" width="1.9" height="1.8" fill="#2a5a8f" opacity="0.85"/><rect x="22.80" y="0" width="1.9" height="1.8" fill="#2a5a8f" opacity="0.85"/><rect x="25.65" y="0" width="1.9" height="1.8" fill="#2a5a8f" opacity="0.85"/><rect x="28.50" y="0" width="1.9" height="1.8" fill="#2a5a8f" opacity="0.85"/><rect x="31.35" y="0" width="1.9" height="1.8" fill="#2a5a8f" opacity="0.85"/><rect x="34.20" y="0" width="1.9" height="1.8" fill="#2a5a8f" opacity="0.85"/></svg>
<div class="a" style="left:428.2px;top:239.2px;width:2.2px;height:0.9px;background:#8aa9c9;"></div>
<div class="a n" style="left:463.40px;top:236.28px;font-family:'Liberation Serif';font-size:20.2px;line-height:20.2px;color:#151515;letter-spacing:0.3px;">Bitwise</div>
<div class="a" style="left:525.5px;top:242.6px;width:2.5px;height:2.5px;border-radius:50%;background:#888;"></div>
<div class="a n" style="left:563.70px;top:238.75px;font-size:14px;line-height:14px;color:#111;-webkit-text-stroke:0.3px #111;">21shares</div>
<div class="a" style="left:618.8px;top:240.2px;width:1.4px;height:1.4px;border-radius:50%;background:#999;"></div>
<div class="a n" style="left:659.30px;top:236.19px;font-family:'Liberation Serif';font-size:19.6px;line-height:19.6px;font-weight:bold;color:#1d4790;letter-spacing:-1.8px;">VanEck</div>
<div class="a" style="left:716.4px;top:239.2px;width:2.3px;height:2.3px;border-radius:50%;background:#8ea3c8;"></div>
<svg class="a" style="left:754px;top:240px" width="19" height="13" viewBox="0 0 19 13"><path d="M0.3 9.3 C1.5 8.3 3.4 8.0 4.4 6.6 L7.4 2.1 C8.2 0.9 9.6 0.9 10.3 1.9 L9.7 4.6 L11.2 8.6 L10.0 9.0 L8.9 8.0 L8.6 11.4 L7.5 11.6 L7.2 9.8 L5.6 10.1 L4.6 9.7 L3.3 9.9 L1.0 10.2 Z" fill="#0d0fd0"/><path d="M10.4 2.2 L11.2 5.0 L17.8 10.0" stroke="#0d0fd0" stroke-width="0.9" fill="none"/><path d="M11.3 9.6 L12.8 9.9 L13.3 8.6" stroke="#0d0fd0" stroke-width="0.9" fill="none"/></svg>
<div class="a n" style="left:774.20px;top:239.84px;font-size:12.0px;line-height:12.0px;font-weight:bold;color:#0d0fd0;letter-spacing:0.3px;">Invesco</div>
<svg class="a" style="left:852px;top:239.2px" width="17" height="13.5" viewBox="0 0 17 13.5"><ellipse cx="7.6" cy="6.4" rx="6.2" ry="6.0" fill="#f4f4f4" stroke="#3a3a3a" stroke-width="0.9"/><path d="M3.2 12 C2.8 8.5 3.2 4.2 6.2 2.6 C8.6 1.6 11.2 3 11.4 6.2 C11.6 8.6 11 10.6 12.2 12 Z" fill="#4a4a4a"/><path d="M7.2 4.2 C8.8 3.8 10.2 5 10.1 7 C10 9 9 10.2 7.8 10 C7 8.5 6.8 6 7.2 4.2 Z" fill="#b8b8b8"/><path d="M2.5 12.2 C5 10.8 10 10.8 13 12.2 Z" fill="#2e2e2e"/><rect x="0.2" y="12.3" width="16.5" height="0.8" fill="#777"/><circle cx="15.6" cy="10.6" r="0.7" fill="#666"/></svg>
<div class="a n" style="left:869.80px;top:239.39px;font-family:'Liberation Serif';font-size:7.3px;line-height:7.3px;font-weight:bold;color:#1a1a1a;">FRANKLIN</div>
<div class="a n" style="left:870.20px;top:247.29px;font-family:'Liberation Serif';font-size:7.3px;line-height:7.3px;font-weight:bold;color:#1a1a1a;letter-spacing:-0.05px;">TEMPLETON</div>
<div class="a n" style="left:951.10px;top:240.27px;font-size:12.2px;line-height:12.2px;color:#2a2550;letter-spacing:-0.85px;">GRAYSCALE</div>
<div class="a" style="left:1018.4px;top:240.6px;width:1.2px;height:1.2px;background:#777;"></div>
<div class="a n" style="left:1059.50px;top:240.27px;font-size:12.2px;line-height:12.2px;color:#2a2550;letter-spacing:-0.85px;">GRAYSCALE</div>
<div class="a" style="left:1126.8px;top:240.6px;width:1.2px;height:1.2px;background:#777;"></div>
</body></html>
